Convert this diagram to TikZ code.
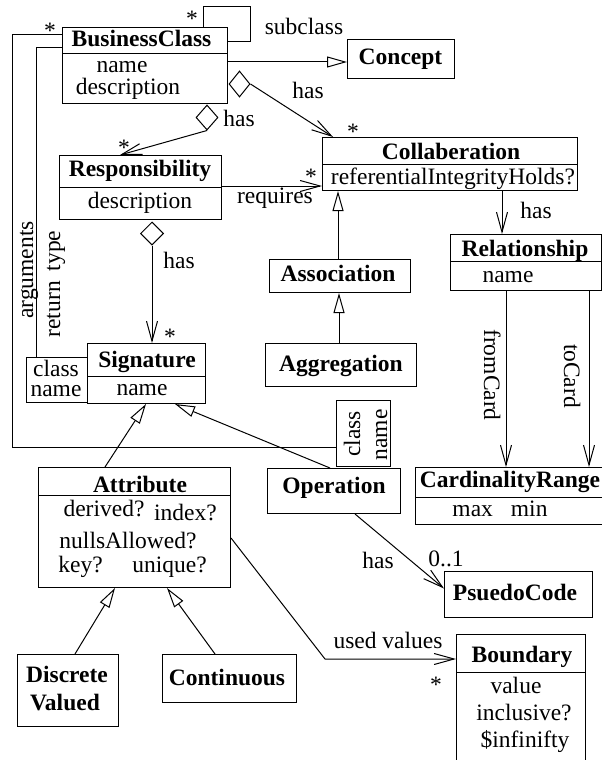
\documentclass[tikz,border=0pt]{standalone}
\usepackage{fontspec}
\setmainfont{Liberation Serif}
\usetikzlibrary{arrows.meta,shapes.geometric}

% one unit = 1pt, y grows downwards
\tikzset{
  cls/.style={draw, line width=1pt, inner sep=0pt, anchor=north west},
  txt/.style={anchor=base, inner sep=0pt, font=\fontsize{23.5}{28}\selectfont},
  ttl/.style={txt, font=\fontsize{23.5}{28}\selectfont\bfseries},
  conn/.style={line width=1pt},
  nav/.style={conn, -{Straight Barb[length=20pt,width=11pt]}},
  isa/.style={conn, -{Triangle[open,length=20pt,width=11pt]}},
  agg/.style={draw, shape=diamond, line width=1pt, inner sep=0pt, fill=white},
}

% \classbox{name}{x1}{y1}{x2}{y2}
\newcommand\classbox[5]{%
  \node[cls, minimum width={(#4-#2)*1pt}, minimum height={(#5-#3)*1pt}] (#1) at (#2,#3) {};}
% \splitbox{name}{x1}{y1}{x2}{y2}{divider y}
\newcommand\splitbox[6]{%
  \classbox{#1}{#2}{#3}{#4}{#5}%
  \draw[conn] (#1.west |- 0,#6) -- (#1.east |- 0,#6);}
% \tx{name}{x}{baseline y}{text}
\newcommand\tx[4]{\node[txt] (#1) at (#2,#3) {#4};}
\newcommand\tb[4]{\node[ttl] (#1) at (#2,#3) {#4};}

\begin{document}
\begin{tikzpicture}[x=1pt,y=-1pt]
\useasboundingbox (0,0) rectangle (602,760);

% ---------- classes ----------
\splitbox{BC}{62}{27}{227}{103}{54}
\tb{BCt}{141.5}{47}{BusinessClass}
\tx{BCa}{122}{72}{name}
\tx{BCb}{128}{94}{description}

\classbox{Concept}{347}{39}{454}{78}
\tb{Conceptt}{400.5}{65}{Concept}

\splitbox{Resp}{59}{155}{221}{219}{187}
\tb{Respt}{140}{176}{Responsibility}
\tx{Respa}{140}{208}{description}

\splitbox{Collab}{322}{137}{577}{190}{164}
\tb{Collabt}{451}{159}{Collaberation}
\tx{Collaba}{453}{184}{referentialIntegrityHolds?}

\splitbox{Rel}{450}{234}{601}{290}{261}
\tb{Relt}{525}{256}{Relationship}
\tx{Rela}{508}{282}{name}

\classbox{Assoc}{269}{259}{410}{292}
\tb{Assoct}{338}{281}{Association}

\classbox{Aggr}{265}{343}{416}{386}
\tb{Aggrt}{341}{371}{Aggregation}

\splitbox{Sig}{87}{343}{205}{403}{376}
\tb{Sigt}{147}{367}{Signature}
\tx{Siga}{142}{395}{name}

\classbox{SigCls}{26}{357}{87}{402}
\tx{SigClsa}{56}{376}{class}
\tx{SigClsb}{56}{396}{name}

\classbox{Op}{267}{468}{400}{513}
\tb{Opt}{334}{493}{Operation}

\classbox{OpCls}{336}{400}{390}{466}
\node[txt, rotate=90] (OpClsa) at (360,434) {class};
\node[txt, rotate=90] (OpClsb) at (387,435) {name};

\splitbox{Card}{415}{467}{606}{524}{497}
\tb{Cardt}{510}{487}{CardinalityRange}
\tx{Carda}{500}{516}{max\hspace{18pt}min}

\splitbox{Attr}{38}{467}{230}{587}{495}
\tb{Attrt}{140}{492}{Attribute}
\tx{Attra}{104}{516}{derived?}
\tx{Attrb}{185.5}{520}{index?}
\tx{Attrc}{128}{548}{nullsAllowed?}
\tx{Attrd}{80.5}{572}{key?}
\tx{Attre}{169.5}{572}{unique?}

\classbox{Disc}{17}{654}{118}{726}
\tb{Disct}{67}{682}{Discrete}
\tb{Discb}{65}{710}{Valued}

\classbox{Cont}{162}{654}{296}{702}
\tb{Contt}{227}{685}{Continuous}

\classbox{Pseudo}{444}{571}{592}{617}
\tb{Pseudot}{515}{600}{PsuedoCode}

\splitbox{Bound}{456}{634}{585}{766}{672}
\tb{Boundt}{522}{662}{Boundary}
\tx{Bounda}{516}{693}{value}
\tx{Boundb}{524}{720}{inclusive?}
\tx{Boundc}{525}{747}{\$infinifty}

% ---------- aggregation diamonds ----------
\node[agg, minimum width=21pt, minimum height=26pt] (d1) at (239.5,84) {};
\node[agg, minimum width=22pt, minimum height=25pt] (d2) at (207,117.5) {};
\node[agg, minimum width=23pt, minimum height=23pt] (d3) at (152,233.5) {};

% ---------- connectors ----------
% generalisations
\draw[isa] (BC.east |- 0,62) -- (Concept.west |- 0,62);
\draw[isa] (Assoc.north -| 338,0) -- (Collab.south -| 338,0);
\draw[isa] (Aggr.north -| 339,0) -- (Assoc.south -| 339,0);
\draw[isa] (Attr.north -| 105,0) -- (Sig.south -| 146,0);
\draw[isa] (Op.north -| 330,0) -- (Sig.south -| 175,0);
\draw[isa] (Disc.north -| 75,0) -- (Attr.south -| 115,0);
\draw[isa] (Cont.north -| 215,0) -- (Attr.south -| 167,0);

% subclass self association
\draw[conn] (BC.north -| 203,0) -- (203,7) -- (250,7) -- (250,42) -- (BC.east |- 0,42);

% navigable associations
\draw[nav] (d1.east) -- ([xshift=11pt]Collab.north west);
\draw[nav] (d2.south) -- ([xshift=61pt]Resp.north west);
\draw[nav] (d3.south) -- (Sig.north -| d3.south);
\draw[nav] (Resp.east |- 0,186) -- (Collab.west |- 0,186);
\draw[nav] (Collab.south -| 502,0) -- (Rel.north -| 502,0);
\draw[nav] (Rel.south -| 506,0) -- (Card.north -| 506,0);
\draw[nav] (Rel.south -| 589,0) -- (Card.north -| 589,0);
\draw[nav] (Op.south -| 355,0) -- ([yshift=6pt]Pseudo.west);
\draw[nav] (Attr.east |- 0,538) -- (325,659) -- (Bound.west |- 0,659);

% qualified associations back to BusinessClass
\draw[conn] (BC.west |- 0,35) -- (12,35) -- (12,447) -- (OpCls.west |- 0,447);
\draw[conn] (BC.west |- 0,48) -- (36,48) -- (SigCls.north -| 36,0);

% ---------- labels ----------
\tx{s1}{50}{39}{*}
\tx{s2}{192}{27}{*}
\tx{s3}{353}{139}{*}
\tx{s4}{124}{155}{*}
\tx{s5}{311}{184}{*}
\tx{s6}{170}{344}{*}
\tx{s7}{436}{692}{*}

\tx{lsub}{304}{35}{subclass}
\tx{lhas1}{308}{99}{has}
\tx{lhas2}{239}{126}{has}
\tx{lreq}{275}{203}{requires}
\tx{lhas3}{179}{268}{has}
\tx{lhas4}{536}{218}{has}
\node[txt, rotate=-90] (lfrom) at (484,375) {fromCard};
\node[txt, rotate=-90] (lto) at (564,376) {toCard};
\node[txt, rotate=90] (larg) at (33,270) {arguments};
\node[txt, rotate=90] (lret) at (60,284) {return\hspace{10pt}type};
\tx{lhas5}{378}{568}{has}
\tx{lzero}{446}{566}{0..1}
\tx{lused}{388}{648}{used values}
\end{tikzpicture}
\end{document}
